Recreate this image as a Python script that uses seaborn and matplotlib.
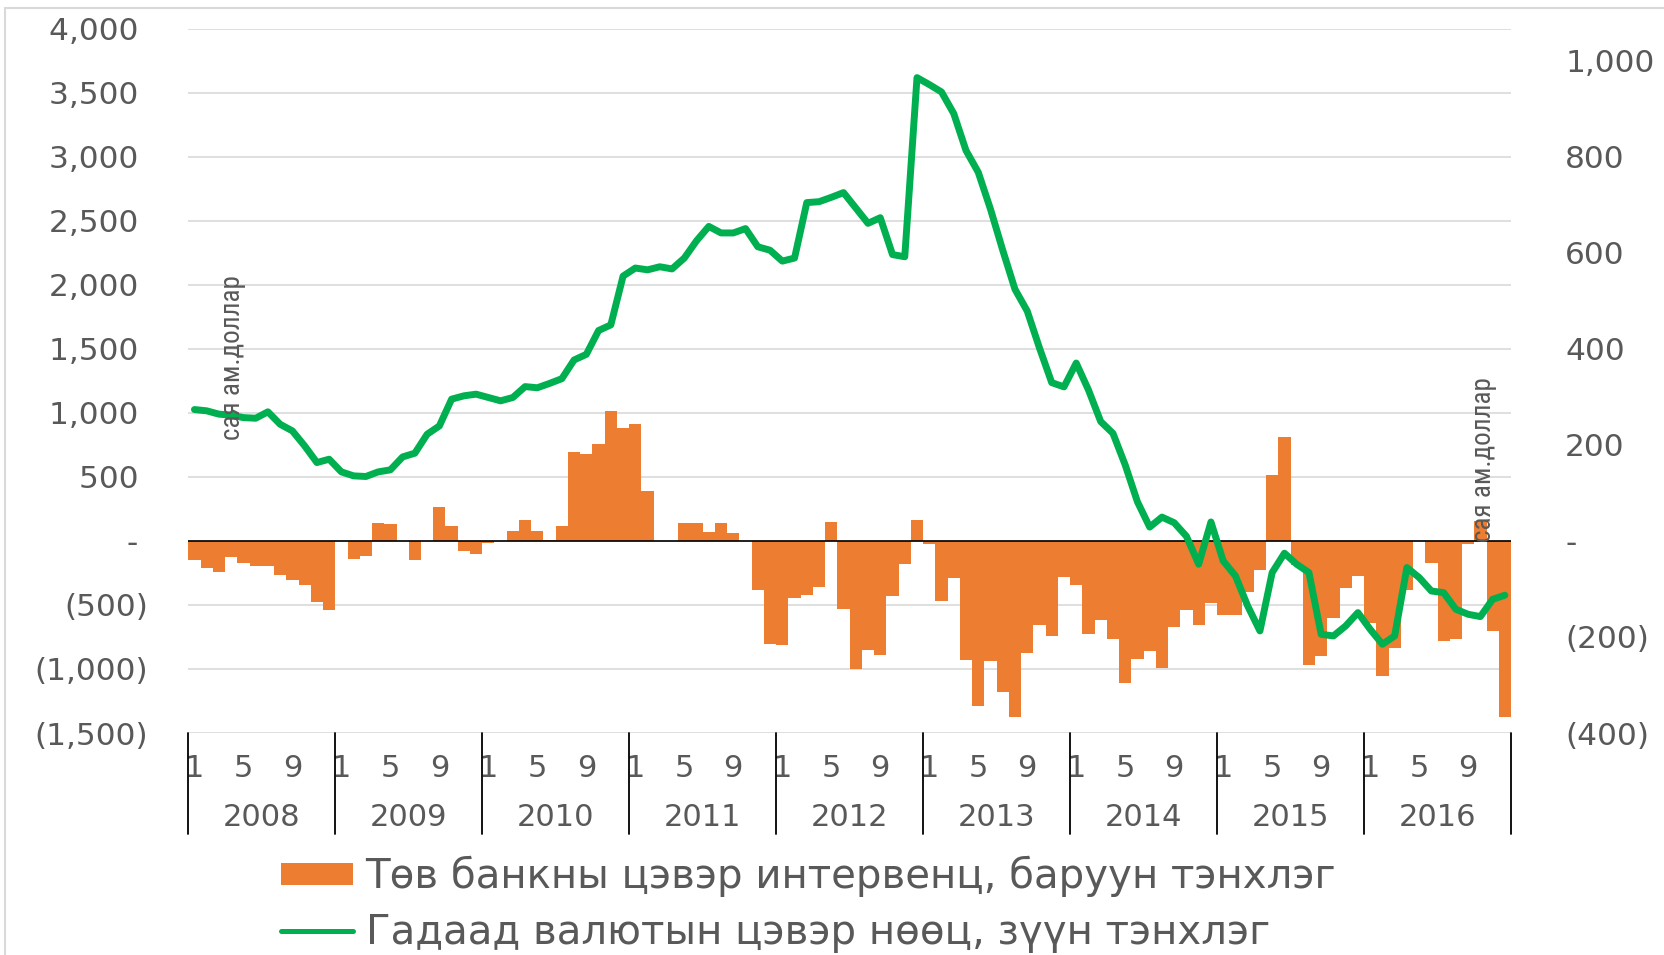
import numpy as np
import matplotlib
matplotlib.use("Agg")
import matplotlib.pyplot as plt
import seaborn as sns
from matplotlib.patches import Patch, Rectangle
from matplotlib.lines import Line2D
from matplotlib.ticker import FuncFormatter, FixedLocator
import matplotlib.transforms as mtransforms
from matplotlib import font_manager

# ---------------- data ----------------
years = ["2008", "2009", "2010", "2011", "2012", "2013", "2014", "2015", "2016"]
month_ticks = ["1", "5", "9"]

# Central bank net intervention (right axis), monthly, mln USD
intervention = [
    -40, -57, -64, -34, -45, -52, -52, -71, -81, -92, -127, -144,      # 2008
    0, -37, -31, 37, 35, 0, -39, 0, 70, 31, -22, -27,                   # 2009
    -4, 0, 21, 43, 21, 2, 32, 185, 181, 201, 270, 236,                  # 2010
    244, 103, 0, 0, 37, 37, 18, 38, 17, 0, -102, -215,                  # 2011
    -217, -118, -112, -96, 39, -141, -266, -227, -237, -115, -48, 44,   # 2012
    -6, -125, -77, -248, -344, -250, -315, -366, -233, -175, -197, -75, # 2013
    -92, -194, -164, -204, -296, -245, -230, -265, -180, -143, -176, -129,  # 2014
    -154, -154, -107, -61, 138, 217, -50, -259, -239, -161, -99, -73,   # 2015
    -171, -282, -224, -103, 0, -45, -208, -204, -6, 42, -187, -367,     # 2016
]

# Net international reserves (left axis), monthly, mln USD
reserves = [
    1026, 1016, 990, 982, 963, 958, 1008, 911, 859, 742, 612, 638,      # 2008
    539, 508, 503, 539, 555, 656, 685, 833, 898, 1107, 1133, 1146,      # 2009
    1120, 1094, 1120, 1205, 1196, 1230, 1267, 1413, 1457, 1643, 1687, 2068,  # 2010
    2131, 2117, 2141, 2124, 2209, 2344, 2456, 2405, 2405, 2439, 2297, 2270,  # 2011
    2185, 2209, 2642, 2649, 2683, 2720, 2600, 2480, 2524, 2236, 2219, 3618,  # 2012
    3564, 3506, 3337, 3049, 2879, 2591, 2270, 1965, 1795, 1507, 1236, 1203,  # 2013
    1389, 1179, 932, 840, 593, 305, 108, 186, 142, 36, -182, 148,       # 2014
    -156, -273, -508, -703, -247, -96, -182, -247, -729, -742, -664, -560,  # 2015
    -690, -807, -742, -208, -286, -391, -404, -534, -573, -591, -456, -424,  # 2016
]

left_ticks = [-1500, -1000, -500, 0, 500, 1000, 1500, 2000, 2500, 3000, 3500, 4000]
right_ticks = [-400, -200, 0, 200, 400, 600, 800, 1000]

bar_label = "Төв банкны цэвэр интервенц, баруун тэнхлэг"
line_label = "Гадаад валютын цэвэр нөөц, зүүн тэнхлэг"
unit_label = "сая ам.доллар"

ORANGE = "#ED7D31"
GREEN = "#00B050"
GRAY_TXT = "#595959"
GRID = "#D9D9D9"

# ---------------- style ----------------
sns.set_style("white")
plt.rcParams["font.family"] = ["DejaVu Sans"]

installed = {f.name for f in font_manager.fontManager.ttflist}
narrow_candidates = ["Liberation Sans Narrow", "DejaVu Sans Condensed", "Roboto Condensed",
                     "Open Sans Condensed", "Noto Sans Condensed"]
narrow = [f for f in narrow_candidates if f in installed]
if narrow:
    unit_fam = [narrow[0], "DejaVu Sans"]
    unit_kw = dict(fontsize=19.5)
else:
    unit_fam = ["Roboto", "DejaVu Sans"]
    unit_kw = dict(fontsize=18, fontstretch="condensed")

W, H = 1665, 955
fig = plt.figure(figsize=(W / 100, H / 100), dpi=100)
fig.patch.set_facecolor("white")

# outer chart frame (left and top visible)
fig.patches.append(Rectangle((5 / W, -0.1), 1.2, 1.1 - 8 / H, transform=fig.transFigure,
                             fill=False, edgecolor=GRID, linewidth=1.5, zorder=0))

pos = [188.3 / W, 1 - 733 / H, (1511 - 188.3) / W, (733 - 28.7) / H]
ax1 = fig.add_axes(pos)
ax2 = ax1.twinx()
ax3 = fig.add_axes(pos, sharex=ax1, sharey=ax1)

n = len(intervention)
idx = np.arange(n)

# bars on right axis
sns.barplot(x=idx, y=intervention, ax=ax2, color=ORANGE, saturation=1,
            native_scale=True, width=1.0, errorbar=None, linewidth=0)
ax2.axhline(0, color="black", linewidth=1.2, zorder=5)

# line on left axis (top layer)
sns.lineplot(x=idx, y=reserves, ax=ax3, color=GREEN, linewidth=5.0,
             solid_joinstyle="round", solid_capstyle="round")

# limits
ax1.set_xlim(-0.5, n - 0.5)
ax1.set_ylim(left_ticks[0], left_ticks[-1])
r_lo = right_ticks[0]
r_hi = r_lo * left_ticks[-1] / left_ticks[0]
ax2.set_ylim(r_lo, r_hi)


def fmt_acc(v, _pos=None, trail=True):
    v = int(round(v))
    if v == 0:
        return "- " if trail else "-"
    if v < 0:
        return "({:,})".format(-v)
    return "{:,} ".format(v) if trail else "{:,}".format(v)


TICK_FS = 22.5

# left axis
ax1.yaxis.set_major_locator(FixedLocator(left_ticks))
ax1.yaxis.set_major_formatter(FuncFormatter(lambda v, p: fmt_acc(v, p, True)))
ax1.grid(axis="y", color=GRID, linewidth=1.2)
ax1.grid(axis="x", visible=False)
ax1.tick_params(axis="y", length=0, pad=29, labelsize=TICK_FS, labelcolor=GRAY_TXT)

# right axis
ax2.yaxis.set_major_locator(FixedLocator(right_ticks))
ax2.yaxis.set_major_formatter(FuncFormatter(lambda v, p: fmt_acc(v, p, False)))
ax2.tick_params(axis="y", length=0, pad=39, labelsize=TICK_FS, labelcolor=GRAY_TXT)
ax2.set_ylabel("")
ax2.set_xlabel("")
ax2.grid(False)

# x axis: month labels 1,5,9 in each year
xt, xl = [], []
for k in range(len(years)):
    for m in month_ticks:
        xt.append(12 * k + int(m) - 1)
        xl.append(m)
ax1.set_xticks(xt)
ax1.set_xticklabels(xl)
ax1.tick_params(axis="x", length=0, pad=15, labelsize=22, labelcolor=GRAY_TXT)
ax2.tick_params(axis="x", length=0, labelbottom=False)

trans = mtransforms.blended_transform_factory(ax1.transData, ax1.transAxes)
sep_bottom = -(834 - 733) / (733 - 28.7)
for k in range(len(years) + 1):
    ax1.plot([12 * k - 0.5, 12 * k - 0.5], [0, sep_bottom], color="black",
             linewidth=1.3, transform=trans, clip_on=False)
year_y = -(817 - 733) / (733 - 28.7)
for k, yr in enumerate(years):
    ax1.text(12 * k + 5.5, year_y, yr, transform=trans, ha="center", va="center",
             fontsize=22, color=GRAY_TXT)

for a in (ax1, ax2, ax3):
    for s in a.spines.values():
        s.set_visible(False)
ax3.axis("off")
ax3.patch.set_visible(False)
ax1.set_xlabel("")
ax1.set_ylabel("")
ax3.set_xlabel("")
ax3.set_ylabel("")

# unit labels
fig.text(233 / W, 1 - 358 / H, unit_label, rotation=90, ha="center", va="center",
         color=GRAY_TXT, family=unit_fam, **unit_kw)
fig.text(1484 / W, 1 - 460 / H, unit_label, rotation=90, ha="center", va="center",
         color=GRAY_TXT, family=unit_fam, **unit_kw)

# legend
handles = [Patch(facecolor=ORANGE, edgecolor="none"),
           Line2D([0], [0], color=GREEN, linewidth=3.6)]
leg = fig.legend(handles, [bar_label, line_label], loc="upper left",
                 bbox_to_anchor=(281 / W, 1 - 856 / H), frameon=False,
                 fontsize=29, handlelength=1.8, handleheight=0.48,
                 handletextpad=0.3, labelspacing=0.38, borderpad=0, borderaxespad=0)
for t in leg.get_texts():
    t.set_color(GRAY_TXT)

fig.savefig("out.png", dpi=100, facecolor="white")
